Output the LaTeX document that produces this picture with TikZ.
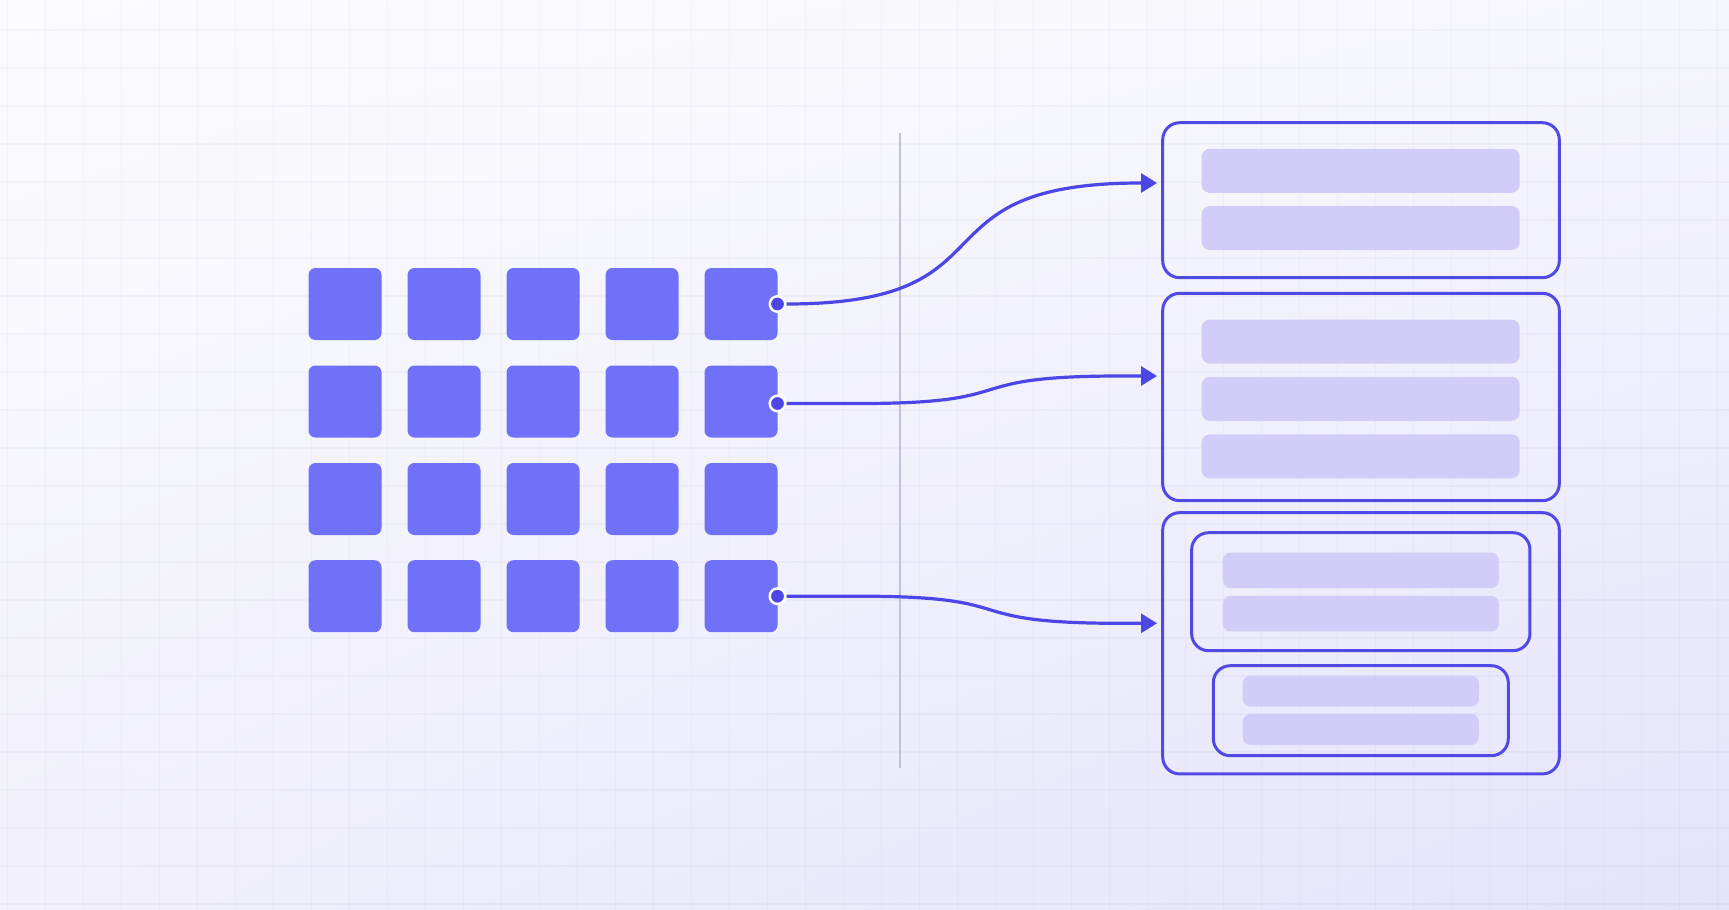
\documentclass[tikz,border=0pt]{standalone}
\usetikzlibrary{arrows.meta,shadings}
\definecolor{bgA}{HTML}{FCFCFE}
\definecolor{bgB}{HTML}{F6F6FD}
\definecolor{bgC}{HTML}{F1F0FB}
\definecolor{bgD}{HTML}{E4E3FC}
\definecolor{sqcol}{HTML}{6F71F8}
\definecolor{dotcol}{HTML}{4C46E6}
\definecolor{linecol}{HTML}{4C46E6}
\definecolor{boxcol}{HTML}{5149E6}
\definecolor{barcol}{HTML}{D0CEF9}
\definecolor{divcol}{HTML}{C2C1DC}
\definecolor{gridcol}{HTML}{404060}
\begin{document}
\begin{tikzpicture}[x=1pt,y=-1pt,
  gridline/.style={draw=gridcol, opacity=0.035, line width=1.5pt},
  sq/.style={rectangle, rounded corners=7pt, fill=sqcol, minimum width=73pt, minimum height=72pt, inner sep=0pt},
  dot/.style={circle, fill=dotcol, draw=white, line width=2.5pt, minimum size=15.5pt, inner sep=0pt},
  divider/.style={draw=divcol, line width=2.7pt},
  conn/.style={draw=linecol, line width=3.2pt, -{Triangle[length=16pt,width=19pt]}},
  outerbox/.style={rectangle, rounded corners=17pt, draw=boxcol, line width=3pt, inner sep=0pt},
  bar/.style={rectangle, rounded corners=8pt, fill=barcol, inner sep=0pt}
]
\useasboundingbox (0,0) rectangle (1729,910);
\shade[upper left=bgA, upper right=bgB, lower left=bgC, lower right=bgD] (0,0) rectangle (1729,910);
\foreach \gx in {0,...,45} \draw[gridline] (7.3+38*\gx,0) -- (7.3+38*\gx,910);
\foreach \gy in {0,...,23} \draw[gridline] (0,30+38*\gy) -- (1729,30+38*\gy);

% squares grid
\foreach \c [count=\ci] in {345,444,543,642,741}
  \foreach \r [count=\ri] in {304,401.5,499,596.2}
    \node[sq] (s\ri\ci) at (\c,\r) {};

% divider
\coordinate (vt) at (900,133);
\coordinate (vb) at (900,768);
\draw[divider] (vt) -- (vb);

% right boxes
\node[outerbox, minimum width=396.6pt, minimum height=155pt] (box1) at (1361,200.2) {};
\node[bar, minimum width=318pt, minimum height=44pt] (b11) at (1360.7,170.8) {};
\node[bar, minimum width=318pt, minimum height=44pt] (b12) at (1360.7,228) {};

\node[outerbox, minimum width=396.6pt, minimum height=207.4pt] (box2) at (1361,397) {};
\node[bar, minimum width=318pt, minimum height=44pt] (b21) at (1360.7,341.5) {};
\node[bar, minimum width=318pt, minimum height=44pt] (b22) at (1360.7,398.8) {};
\node[bar, minimum width=318pt, minimum height=44pt] (b23) at (1360.7,456.3) {};

\node[outerbox, minimum width=396.6pt, minimum height=261.3pt] (box3) at (1361,643.3) {};
\node[outerbox, minimum width=338.3pt, minimum height=118pt] (boxA) at (1360.8,591.7) {};
\node[bar, minimum width=276.3pt, minimum height=35.5pt] (bA1) at (1360.8,570.3) {};
\node[bar, minimum width=276.3pt, minimum height=35.5pt] (bA2) at (1360.8,613.7) {};
\node[outerbox, minimum width=295pt, minimum height=90pt] (boxB) at (1360.8,710.7) {};
\node[bar, minimum width=236.3pt, minimum height=31pt] (bB1) at (1360.8,691.2) {};
\node[bar, minimum width=236.3pt, minimum height=31pt] (bB2) at (1360.8,729.5) {};

% arrow targets
\coordinate (t1) at (1157,183);
\coordinate (t2) at (1157,376);
\coordinate (t3) at (1157,623.3);

% dots
\node[dot] (d1) at (777.5,304) {};
\node[dot] (d2) at (777.5,403.5) {};
\node[dot] (d3) at (777.5,596.2) {};

% connectors
\draw[conn] (d1.east) .. controls (1022,304) and (906,183) .. (1141,183) -- (t1);
\draw[conn] (d2.east) -- (860,403.5) .. controls (1029,403.5) and (951,376) .. (1120,376) -- (t2);
\draw[conn] (d3.east) -- (860,596.2) .. controls (1029,596.2) and (951,623.3) .. (1120,623.3) -- (t3);
\end{tikzpicture}
\end{document}
